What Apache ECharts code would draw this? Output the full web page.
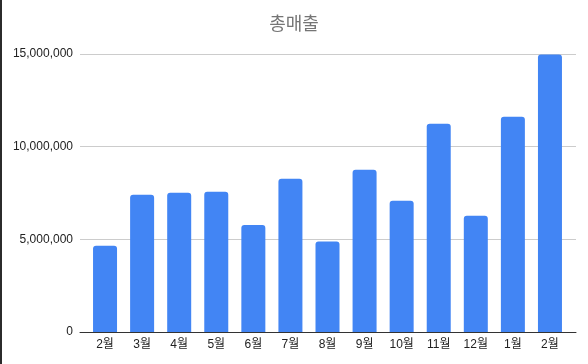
<!DOCTYPE html>
<html>
<head>
<meta charset="utf-8">
<script src="https://cdn.jsdelivr.net/npm/echarts@6/dist/echarts.min.js"></script>
<style>
  html, body { margin: 0; padding: 0; background: #fff; }
  #chart { width: 588px; height: 364px; }
  #edge { position: absolute; left: 0; top: 0; width: 2px; height: 364px; background: #2b2b2b; }
</style>
</head>
<body>
<div id="chart"></div>
<div id="edge"></div>
<script>
const titleText = '총매출';
const categories = ['2월', '3월', '4월', '5월', '6월', '7월', '8월', '9월', '10월', '11월', '12월', '1월', '2월'];
const sales = [4650000, 7410000, 7510000, 7570000, 5780000, 8270000, 4880000, 8760000, 7080000, 11240000, 6270000, 11620000, 14970000];
const yTicks = [0, 5000000, 10000000, 15000000];

const yMin = yTicks[0], yMax = yTicks[yTicks.length - 1], yStep = yTicks[1] - yTicks[0];
const font = 'Arial, "Liberation Sans", "Noto Sans CJK KR", sans-serif';

const chart = echarts.init(document.getElementById('chart'), null, { renderer: 'canvas' });
chart.setOption({
  animation: false,
  backgroundColor: '#ffffff',
  title: {
    text: titleText,
    left: 'center',
    top: 9,
    textStyle: { color: '#757575', fontSize: 18, fontWeight: 'normal', fontFamily: '"Noto Sans CJK KR", sans-serif' }
  },
  grid: [
    { left: 80, right: 12, top: 54, bottom: 32 },
    { left: 86.5, right: 19.5, top: 54, bottom: 32 }
  ],
  xAxis: [
    {
      gridIndex: 0, type: 'category', data: categories,
      axisLine: { show: true, lineStyle: { color: '#333333', width: 1 } },
      axisTick: { show: false }, axisLabel: { show: false }, splitLine: { show: false }
    },
    {
      gridIndex: 1, type: 'category', data: categories,
      axisLine: { show: false }, axisTick: { show: false },
      axisLabel: { show: true, color: '#222222', fontSize: 12, margin: 7, fontFamily: font, interval: 0 }
    }
  ],
  yAxis: [
    {
      gridIndex: 0, type: 'value', min: yMin, max: yMax, interval: yStep,
      axisLine: { show: false }, axisTick: { show: false },
      axisLabel: {
        color: '#222222', fontSize: 12, margin: 7, fontFamily: font,
        formatter: v => v.toLocaleString('en-US')
      },
      splitLine: { show: true, lineStyle: { color: '#cccccc', width: 1 } }
    },
    {
      gridIndex: 1, type: 'value', min: yMin, max: yMax, interval: yStep,
      show: false, splitLine: { show: false }
    }
  ],
  series: [
    {
      type: 'bar', xAxisIndex: 1, yAxisIndex: 1,
      data: sales, barWidth: 24,
      itemStyle: { color: '#4285f4', borderRadius: [3, 3, 0, 0] }
    }
  ]
});
</script>
</body>
</html>
